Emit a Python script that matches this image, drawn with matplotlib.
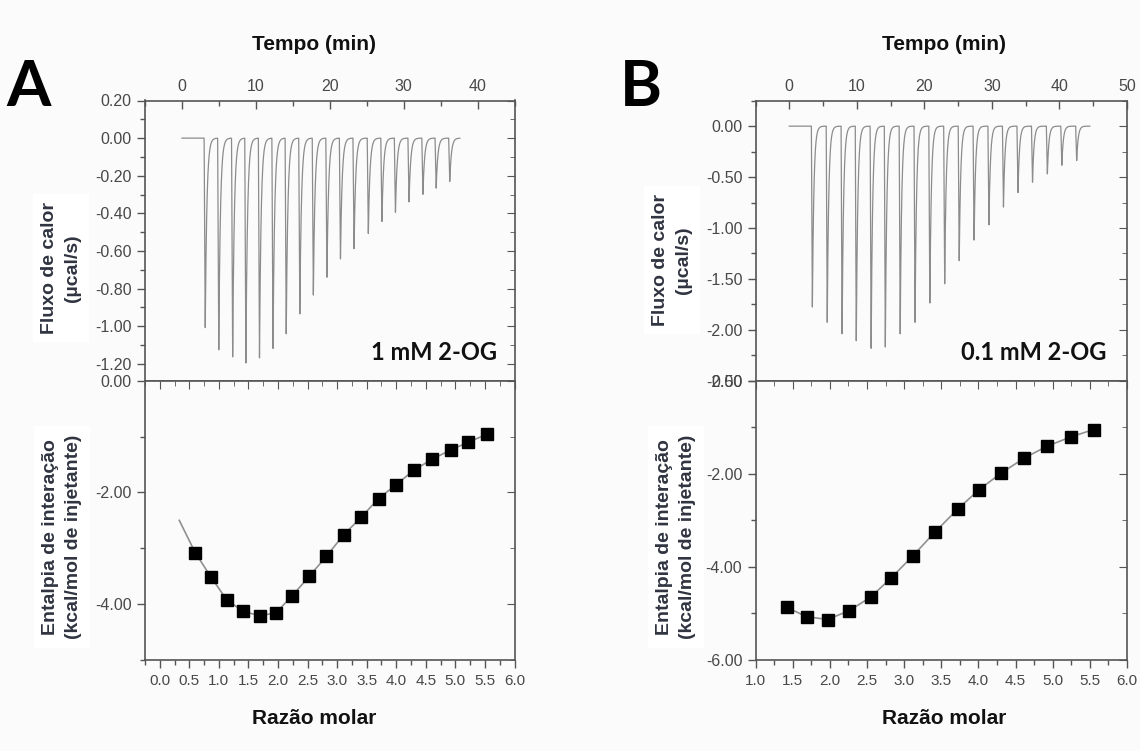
import numpy as np
import matplotlib
matplotlib.use("Agg")
import matplotlib.pyplot as plt
from matplotlib.ticker import MultipleLocator, FormatStrFormatter

plt.rcParams['font.family'] = ['Liberation Sans', 'DejaVu Sans']
plt.rcParams['axes.unicode_minus'] = False

# ---- panel A data (1 mM 2-OG) ----
inj_time_a = [3.0, 4.83, 6.71, 8.50, 10.34, 12.17, 13.96, 15.80, 17.63, 19.47,
              21.30, 23.14, 25.07, 26.91, 28.74, 30.58, 32.46, 34.25, 36.09]
peak_a = [-1.02, -1.14, -1.18, -1.20, -1.18, -1.13, -1.05, -0.94, -0.84, -0.75,
          -0.65, -0.59, -0.51, -0.45, -0.40, -0.34, -0.30, -0.27, -0.23]
run_end_a = 37.6
ratio_a = [0.60, 0.87, 1.13, 1.41, 1.70, 1.97, 2.24, 2.53, 2.82, 3.11,
           3.41, 3.70, 4.00, 4.30, 4.60, 4.92, 5.22, 5.53]
dh_a = [-3.08, -3.52, -3.92, -4.13, -4.21, -4.15, -3.85, -3.50, -3.14, -2.76,
        -2.44, -2.11, -1.86, -1.60, -1.41, -1.24, -1.10, -0.96]
fit_start_a = (0.33, -2.50)

# ---- panel B data (0.1 mM 2-OG) ----
inj_time_b = [3.27, 5.47, 7.67, 9.77, 11.97, 14.07, 16.27, 18.47, 20.66, 22.86,
              25.01, 27.21, 29.41, 31.56, 33.71, 35.86, 38.06, 40.20, 42.40]
peak_b = [-1.78, -1.95, -2.06, -2.14, -2.19, -2.17, -2.07, -1.94, -1.77, -1.55,
          -1.33, -1.14, -0.97, -0.80, -0.66, -0.56, -0.47, -0.39, -0.34]
run_end_b = 44.5
ratio_b = [1.42, 1.69, 1.97, 2.26, 2.55, 2.83, 3.12, 3.41, 3.72, 4.01,
           4.31, 4.62, 4.92, 5.24, 5.55]
dh_b = [-4.87, -5.07, -5.13, -4.94, -4.65, -4.23, -3.76, -3.26, -2.76, -2.34,
        -1.98, -1.66, -1.41, -1.21, -1.05]

W, H = 1140, 751
BG = '#fbfbfb'
fig = plt.figure(figsize=(W / 100, H / 100), dpi=100, facecolor=BG)


def px(l, t, r, b):
    return [l / W, 1 - b / H, (r - l) / W, (b - t) / H]


def thermogram(times, depths, end):
    # baseline with sharp injection spikes (fast drop, quick recovery)
    t = np.linspace(0, end, 6000)
    y = np.zeros_like(t)
    for ti, d in zip(times, depths):
        dt = t - ti
        rise = (dt >= 0) & (dt < 0.15)
        y[rise] += d * dt[rise] / 0.15
        dec = dt >= 0.15
        y[dec] += d * np.exp(-(dt[dec] - 0.15) / 0.22)
    return t, y


def style(ax):
    for s in ax.spines.values():
        s.set_color('#555555')
        s.set_linewidth(1.2)
    ax.set_facecolor(BG)
    ax.tick_params(which='both', colors='#555555', labelcolor='#484848', width=1.0)
    ax.tick_params(which='major', length=6)
    ax.tick_params(which='minor', length=3.5)


def inner_ticks(sec, spine):
    sec.tick_params(which='both', direction='in', colors='#555555')
    sec.tick_params(which='major', length=6)
    sec.tick_params(which='minor', length=3.5)
    sec.spines[spine].set_visible(False)


def top_panel(rect, times, depths, end, xlim, ylim, ystep, xmax_tick):
    ax = fig.add_axes(rect)
    t, y = thermogram(times, depths, end)
    ax.plot(t, y, color='#8c8c8c', lw=0.9)
    ax.set_xlim(*xlim)
    ax.set_ylim(*ylim)
    ax.xaxis.tick_top()
    ax.set_xticks(np.arange(0, xmax_tick + 1, 10))
    ax.xaxis.set_minor_locator(MultipleLocator(5))
    ax.xaxis.set_major_formatter(FormatStrFormatter('%d'))
    ax.yaxis.set_major_locator(MultipleLocator(ystep))
    ax.yaxis.set_minor_locator(MultipleLocator(ystep / 2))
    ax.yaxis.set_major_formatter(FormatStrFormatter('%.2f'))
    style(ax)
    ax.tick_params(axis='x', which='both', direction='in', top=True, bottom=False,
                   labeltop=True, labelbottom=False, labelsize=11.5, pad=5)
    ax.tick_params(axis='y', which='both', direction='out', left=True, right=False,
                   labelsize=11.5)
    secy = ax.secondary_yaxis('right')
    secy.yaxis.set_major_locator(MultipleLocator(ystep))
    secy.yaxis.set_minor_locator(MultipleLocator(ystep / 2))
    secy.tick_params(labelright=False)
    inner_ticks(secy, 'right')
    return ax


def bottom_panel(rect, x, y, fx, fy, xlim, ylim):
    ax = fig.add_axes(rect)
    ax.plot(fx, fy, color='#909090', lw=1.2, zorder=2)
    ax.plot(x, y, 's', color='black', ms=8, zorder=3)
    ax.set_xlim(*xlim)
    ax.set_ylim(*ylim)
    ax.xaxis.set_major_locator(MultipleLocator(0.5))
    ax.xaxis.set_minor_locator(MultipleLocator(0.25))
    ax.xaxis.set_major_formatter(FormatStrFormatter('%.1f'))
    ax.yaxis.set_major_locator(MultipleLocator(2))
    ax.yaxis.set_minor_locator(MultipleLocator(1))
    ax.yaxis.set_major_formatter(FormatStrFormatter('%.2f'))
    style(ax)
    ax.tick_params(axis='x', which='both', direction='out', bottom=True, labelsize=11, pad=4)
    ax.tick_params(axis='y', which='both', direction='out', left=True, labelsize=11.5)
    secx = ax.secondary_xaxis('top')
    secx.xaxis.set_major_locator(MultipleLocator(0.5))
    secx.xaxis.set_minor_locator(MultipleLocator(0.25))
    secx.tick_params(labeltop=False)
    inner_ticks(secx, 'top')
    secy = ax.secondary_yaxis('right')
    secy.yaxis.set_major_locator(MultipleLocator(2))
    secy.yaxis.set_minor_locator(MultipleLocator(1))
    secy.tick_params(labelright=False)
    inner_ticks(secy, 'right')
    return ax


# panel A
top_panel(px(145, 100.5, 514.5, 380.7), inj_time_a, peak_a, run_end_a,
          (-5, 45), (-1.29, 0.20), 0.2, 40)
bottom_panel(px(145, 380.7, 514.5, 660), ratio_a, dh_a,
             [fit_start_a[0]] + ratio_a, [fit_start_a[1]] + dh_a,
             (-0.25, 6.0), (-5.0, 0.0))

# panel B
top_panel(px(755.5, 100.7, 1127, 380.7), inj_time_b, peak_b, run_end_b,
          (-5, 50), (-2.5, 0.25), 0.5, 50)
bottom_panel(px(755.5, 380.7, 1127, 660), ratio_b, dh_b, ratio_b, dh_b,
             (1.0, 6.0), (-6.0, 0.0))


def ftext(x, y, s, **kw):
    fig.text(x / W, 1 - y / H, s, **kw)


lab_color = '#2f3440'
box = dict(facecolor='white', edgecolor='none', pad=6)
for cx in (314, 944):
    ftext(cx, 45, 'Tempo (min)', ha='center', va='center', fontsize=15,
          fontweight='bold', color='#111111')
    ftext(cx, 718, 'Razão molar', ha='center', va='center', fontsize=15,
          fontweight='bold', color='#111111')

ftext(61, 268, 'Fluxo de calor\n(µcal/s)', rotation=90, ha='center', va='center',
      fontsize=14, fontweight='bold', color=lab_color, linespacing=1.45, bbox=box)
ftext(62, 537, 'Entalpia de interação\n(kcal/mol de injetante)', rotation=90,
      ha='center', va='center', fontsize=14, fontweight='bold', color=lab_color,
      linespacing=1.45, bbox=box)
ftext(672, 260, 'Fluxo de calor\n(µcal/s)', rotation=90, ha='center', va='center',
      fontsize=14, fontweight='bold', color=lab_color, linespacing=1.45, bbox=box)
ftext(676, 537, 'Entalpia de interação\n(kcal/mol de injetante)', rotation=90,
      ha='center', va='center', fontsize=14, fontweight='bold', color=lab_color,
      linespacing=1.45, bbox=box)

ftext(6, 88, 'A', ha='left', va='center', fontsize=46, fontweight='bold',
      family=['Lato', 'DejaVu Sans'], color='black')
ftext(620, 88, 'B', ha='left', va='center', fontsize=46, fontweight='bold',
      family=['Lato', 'DejaVu Sans'], color='black')
ftext(497, 352, '1 mM 2-OG', ha='right', va='center', fontsize=17, fontweight='bold',
      family=['Lato', 'DejaVu Sans'], color='#111111')
ftext(1106, 352, '0.1 mM 2-OG', ha='right', va='center', fontsize=17, fontweight='bold',
      family=['Lato', 'DejaVu Sans'], color='#111111')

fig.savefig('out.png', dpi=100, facecolor=fig.get_facecolor())
